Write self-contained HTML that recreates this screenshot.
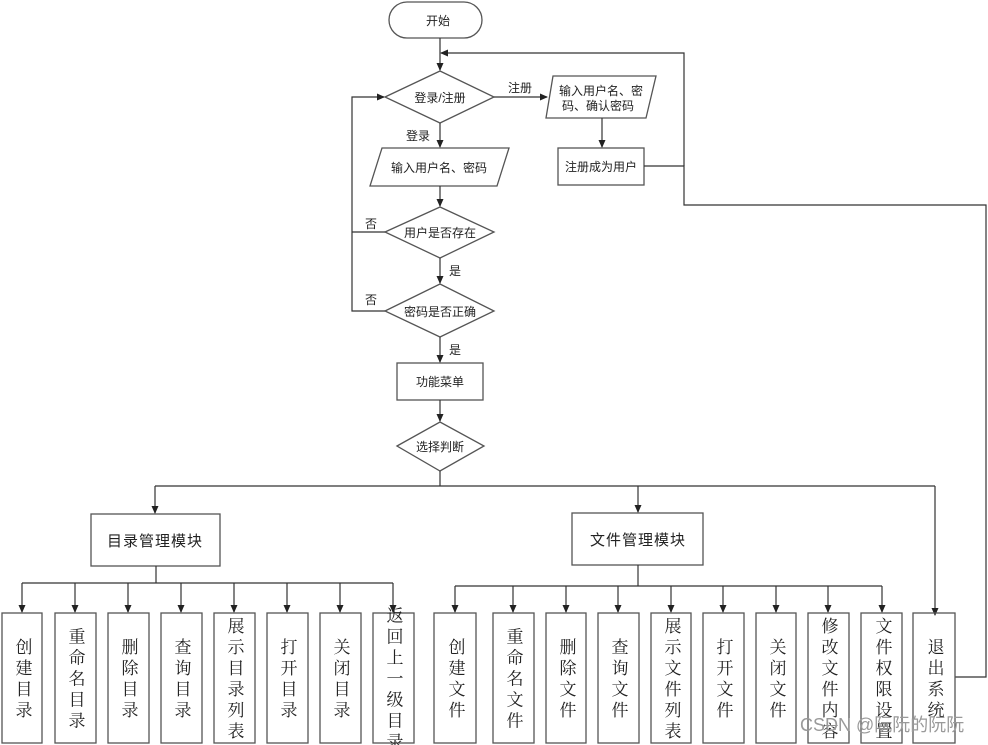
<!DOCTYPE html>
<html><head><meta charset="utf-8"><style>
html,body{margin:0;padding:0;background:#fff}
svg{display:block}
text{font-family:"Liberation Sans","Noto Sans CJK SC",sans-serif;fill:#222}
.v{font-family:"Liberation Serif","Noto Serif CJK SC",serif;font-size:17px;writing-mode:tb;letter-spacing:4px}
</style></head><body>
<svg width="988" height="745" viewBox="0 0 988 745" xmlns="http://www.w3.org/2000/svg">
<defs><marker id="a" markerWidth="8" markerHeight="8" refX="7" refY="4" orient="auto" markerUnits="userSpaceOnUse"><path d="M0,0.5 L8,4 L0,7.5 z" fill="#222"/></marker></defs>
<g fill="none" stroke="#555" stroke-width="1.3">
<rect x="389" y="2" width="93" height="36" rx="18"/>
<polygon points="385,97 440,71 494,97 440,123"/>
<polygon points="553,76 656,76 646,118 546,118"/>
<rect x="558" y="148" width="86" height="37"/>
<polygon points="382,148 509,148 497,186 370,186"/>
<polygon points="385,232 440,207 494,232 440,258"/>
<polygon points="385,311 440,284 494,311 440,337"/>
<rect x="397" y="363" width="86" height="37"/>
<polygon points="397,446 440,422 484,446 440,471"/>
<rect x="91" y="514" width="129" height="52"/>
<rect x="572" y="513" width="131" height="52"/>
</g>
<g fill="none" stroke="#333" stroke-width="1.2">
<line x1="440" y1="38" x2="440" y2="70" marker-end="url(#a)"/>
<polyline points="684,166 684,53 441,53" marker-end="url(#a)"/>
<polyline points="644,166 684,166 684,205 986,205 986,677 955,677"/>
<line x1="494" y1="97" x2="547" y2="97" marker-end="url(#a)"/>
<line x1="602" y1="118" x2="602" y2="147" marker-end="url(#a)"/>
<line x1="440" y1="123" x2="440" y2="147" marker-end="url(#a)"/>
<line x1="440" y1="186" x2="440" y2="206" marker-end="url(#a)"/>
<line x1="440" y1="258" x2="440" y2="283" marker-end="url(#a)"/>
<line x1="440" y1="337" x2="440" y2="362" marker-end="url(#a)"/>
<line x1="440" y1="400" x2="440" y2="421" marker-end="url(#a)"/>
<polyline points="385,232 352,232"/>
<polyline points="385,311 352,311 352,97 384,97" marker-end="url(#a)"/>
<polyline points="440,471 440,486"/>
<line x1="155" y1="486" x2="935" y2="486"/>
<line x1="155" y1="486" x2="155" y2="513" marker-end="url(#a)"/>
<line x1="638" y1="486" x2="638" y2="512" marker-end="url(#a)"/>
<line x1="935" y1="486" x2="935" y2="615" marker-end="url(#a)"/>
<line x1="156" y1="566" x2="156" y2="583"/>
<line x1="22" y1="583" x2="393" y2="583"/>
<line x1="638" y1="565" x2="638" y2="586"/>
<line x1="455" y1="586" x2="882" y2="586"/>
</g>
<g fill="none" stroke="#333" stroke-width="1.2">
<line x1="22" y1="583" x2="22" y2="612" marker-end="url(#a)"/>
<line x1="75" y1="583" x2="75" y2="612" marker-end="url(#a)"/>
<line x1="128" y1="583" x2="128" y2="612" marker-end="url(#a)"/>
<line x1="181" y1="583" x2="181" y2="612" marker-end="url(#a)"/>
<line x1="234" y1="583" x2="234" y2="612" marker-end="url(#a)"/>
<line x1="287" y1="583" x2="287" y2="612" marker-end="url(#a)"/>
<line x1="340" y1="583" x2="340" y2="612" marker-end="url(#a)"/>
<line x1="393" y1="583" x2="393" y2="612" marker-end="url(#a)"/>
<line x1="455" y1="586" x2="455" y2="612" marker-end="url(#a)"/>
<line x1="513" y1="586" x2="513" y2="612" marker-end="url(#a)"/>
<line x1="566" y1="586" x2="566" y2="612" marker-end="url(#a)"/>
<line x1="618" y1="586" x2="618" y2="612" marker-end="url(#a)"/>
<line x1="671" y1="586" x2="671" y2="612" marker-end="url(#a)"/>
<line x1="723" y1="586" x2="723" y2="612" marker-end="url(#a)"/>
<line x1="776" y1="586" x2="776" y2="612" marker-end="url(#a)"/>
<line x1="828" y1="586" x2="828" y2="612" marker-end="url(#a)"/>
<line x1="882" y1="586" x2="882" y2="612" marker-end="url(#a)"/>
</g>
<g fill="none" stroke="#555" stroke-width="1.3">
<rect x="2" y="613" width="40" height="130"/><rect x="55" y="613" width="41" height="130"/>
<rect x="108" y="613" width="41" height="130"/><rect x="161" y="613" width="41" height="130"/>
<rect x="214" y="613" width="41" height="130"/><rect x="267" y="613" width="41" height="130"/>
<rect x="320" y="613" width="41" height="130"/><rect x="373" y="613" width="41" height="130"/>
<rect x="434" y="613" width="42" height="130"/><rect x="493" y="613" width="41" height="130"/>
<rect x="546" y="613" width="40" height="130"/><rect x="598" y="613" width="41" height="130"/>
<rect x="651" y="613" width="40" height="130"/><rect x="703" y="613" width="41" height="130"/>
<rect x="756" y="613" width="40" height="130"/><rect x="808" y="613" width="41" height="130"/>
<rect x="861" y="613" width="41" height="130"/><rect x="913" y="613" width="42" height="130"/>
</g>
<g font-size="12" text-anchor="middle">
<text x="438" y="25">开始</text>
<text x="440" y="102">登录/注册</text>
<text x="520" y="92">注册</text>
<text x="418" y="140">登录</text>
<text x="601" y="95">输入用户名、密</text>
<text x="598" y="110">码、确认密码</text>
<text x="601" y="171">注册成为用户</text>
<text x="439" y="172">输入用户名、密码</text>
<text x="440" y="237">用户是否存在</text>
<text x="371" y="228">否</text>
<text x="455" y="275">是</text>
<text x="371" y="304">否</text>
<text x="440" y="316">密码是否正确</text>
<text x="455" y="354">是</text>
<text x="440" y="386">功能菜单</text>
<text x="440" y="451">选择判断</text>
</g>
<g font-size="15" text-anchor="middle">
<text x="155" y="546" letter-spacing="1">目录管理模块</text>
<text x="638" y="545" letter-spacing="1">文件管理模块</text>
</g>
<g text-anchor="middle">
<text class="v" x="22" y="680">创建目录</text>
<text class="v" x="75" y="680">重命名目录</text>
<text class="v" x="128" y="680">删除目录</text>
<text class="v" x="181" y="680">查询目录</text>
<text class="v" x="234" y="680">展示目录列表</text>
<text class="v" x="287" y="680">打开目录</text>
<text class="v" x="340" y="680">关闭目录</text>
<text class="v" x="393" y="680">返回上一级目录</text>
<text class="v" x="455" y="680">创建文件</text>
<text class="v" x="513" y="680">重命名文件</text>
<text class="v" x="566" y="680">删除文件</text>
<text class="v" x="618" y="680">查询文件</text>
<text class="v" x="671" y="680">展示文件列表</text>
<text class="v" x="723" y="680">打开文件</text>
<text class="v" x="776" y="680">关闭文件</text>
<text class="v" x="828" y="680">修改文件内容</text>
<text class="v" x="882" y="680">文件权限设置</text>
<text class="v" x="934" y="680">退出系统</text>
</g>
<text x="800" y="731" font-size="18" style="fill:#9a9a9a">CSDN @阮阮的阮阮</text>
</svg>
</body></html>
